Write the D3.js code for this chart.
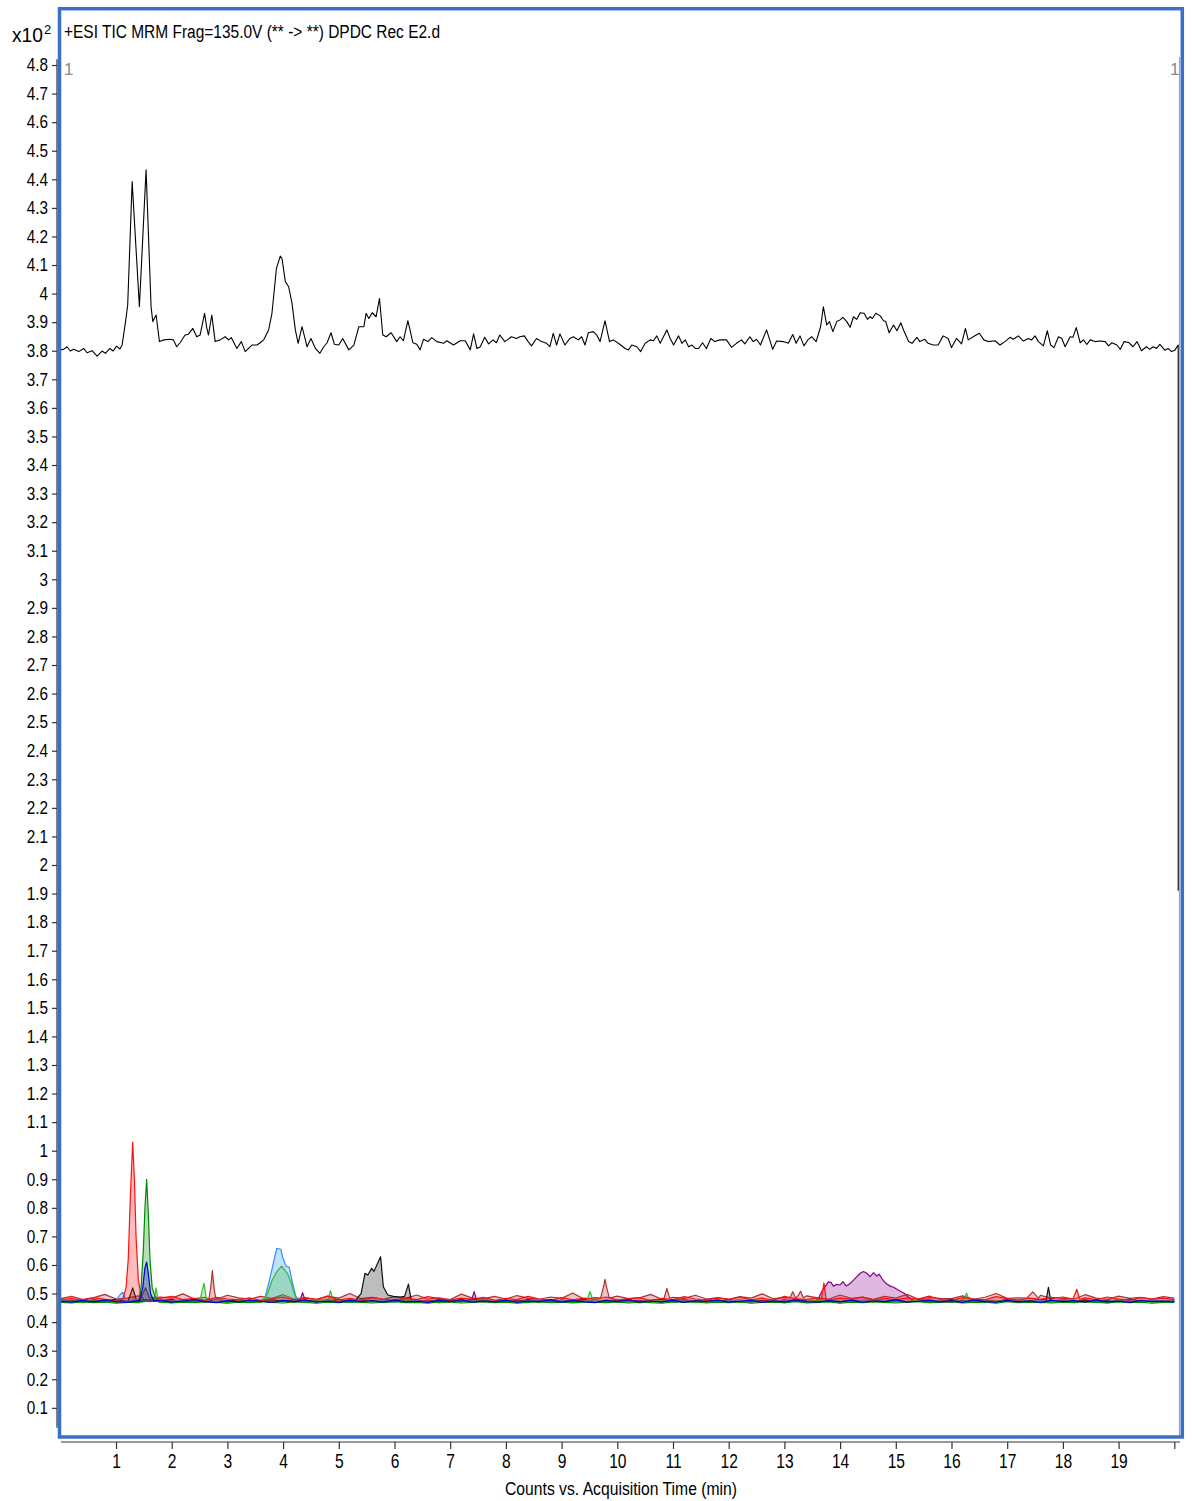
<!DOCTYPE html>
<html>
<head>
<meta charset="utf-8">
<script src="https://cdn.jsdelivr.net/npm/d3@7/dist/d3.min.js"></script>
<style>
  html, body { margin: 0; padding: 0; background: #fff; }
  svg { display: block; }
  .lbl { font-family: "Liberation Sans Narrow", "Arial Narrow", "Liberation Sans", Arial, sans-serif; fill: #000; }
</style>
</head>
<body>
<svg id="chart" width="1192" height="1501"></svg>
<script>
// ---- chart text ----
const titleText = "+ESI TIC MRM Frag=135.0V (** -> **) DPDC Rec E2.d";
const xAxisTitle = "Counts vs. Acquisition Time (min)";
const yMultiplier = "x10";
const yExponent = "2";
const segmentMark = "1";

// ---- axis ticks ----
const xTickValues = [1,2,3,4,5,6,7,8,9,10,11,12,13,14,15,16,17,18,19,20];
const xTickLabels = ["1","2","3","4","5","6","7","8","9","10","11","12","13","14","15","16","17","18","19",""];
const yTickValues = [0.1,0.2,0.3,0.4,0.5,0.6,0.7,0.8,0.9,1,1.1,1.2,1.3,1.4,1.5,1.6,1.7,1.8,1.9,2,
  2.1,2.2,2.3,2.4,2.5,2.6,2.7,2.8,2.9,3,3.1,3.2,3.3,3.4,3.5,3.6,3.7,3.8,3.9,4,4.1,4.2,4.3,4.4,4.5,4.6,4.7,4.8];

// ---- total ion chromatogram: [time (min), counts x10^2] ----
const ticPoints = [
  [0,3.803],[0.06,3.805],[0.12,3.814],[0.18,3.799],[0.24,3.805],[0.33,3.797],[0.42,3.808],[0.48,3.793],[0.57,3.800],[0.66,3.781],
  [0.75,3.799],[0.81,3.791],[0.89,3.808],[0.95,3.799],[1.01,3.816],[1.07,3.806],[1.11,3.82],[1.17,3.90],[1.21,3.96],[1.29,4.392],
  [1.42,3.954],[1.54,4.433],[1.63,3.954],[1.66,3.902],[1.72,3.925],[1.78,3.832],[1.86,3.838],[1.97,3.840],[2.03,3.838],[2.09,3.814],
  [2.15,3.828],[2.24,3.855],[2.30,3.858],[2.38,3.878],[2.45,3.849],[2.51,3.855],[2.59,3.931],[2.63,3.88],[2.66,3.855],[2.72,3.925],
  [2.78,3.832],[2.87,3.838],[2.96,3.849],[3.02,3.838],[3.07,3.846],[3.17,3.808],[3.25,3.832],[3.32,3.797],[3.44,3.820],[3.53,3.820],
  [3.59,3.828],[3.65,3.838],[3.74,3.873],[3.80,3.931],[3.88,4.088],[3.95,4.131],[3.98,4.123],[4.04,4.042],[4.10,4.024],[4.16,3.966],
  [4.22,3.873],[4.27,3.826],[4.34,3.884],[4.43,3.814],[4.50,3.843],[4.58,3.808],[4.66,3.791],[4.73,3.814],[4.79,3.828],[4.86,3.863],
  [4.92,3.823],[5.00,3.820],[5.07,3.843],[5.18,3.803],[5.27,3.820],[5.36,3.884],[5.45,3.884],[5.49,3.931],[5.54,3.913],[5.60,3.933],
  [5.67,3.919],[5.73,3.983],[5.79,3.855],[5.85,3.849],[5.94,3.863],[6.04,3.832],[6.10,3.849],[6.16,3.835],[6.24,3.905],[6.33,3.828],
  [6.40,3.823],[6.46,3.803],[6.52,3.840],[6.60,3.832],[6.67,3.846],[6.76,3.832],[6.88,3.826],[6.94,3.835],[7.06,3.820],[7.18,3.835],
  [7.27,3.835],[7.36,3.803],[7.42,3.859],[7.48,3.808],[7.54,3.814],[7.62,3.847],[7.69,3.824],[7.77,3.838],[7.83,3.828],[7.89,3.855],
  [7.98,3.832],[8.10,3.849],[8.19,3.843],[8.25,3.849],[8.33,3.852],[8.40,3.832],[8.46,3.817],[8.55,3.843],[8.64,3.832],[8.73,3.826],
  [8.79,3.814],[8.85,3.861],[8.91,3.820],[8.97,3.859],[9.06,3.820],[9.15,3.843],[9.21,3.849],[9.30,3.838],[9.36,3.849],[9.42,3.820],
  [9.48,3.863],[9.57,3.867],[9.63,3.855],[9.69,3.832],[9.78,3.905],[9.86,3.832],[9.93,3.838],[10.05,3.822],[10.14,3.808],[10.20,3.803],
  [10.26,3.820],[10.35,3.814],[10.42,3.797],[10.50,3.826],[10.59,3.838],[10.65,3.835],[10.71,3.852],[10.77,3.826],[10.89,3.873],[10.95,3.843],
  [11.01,3.820],[11.10,3.852],[11.16,3.826],[11.22,3.838],[11.28,3.814],[11.34,3.820],[11.40,3.808],[11.46,3.808],[11.53,3.828],[11.60,3.808],
  [11.68,3.843],[11.75,3.832],[11.84,3.838],[11.96,3.838],[12.05,3.812],[12.14,3.826],[12.23,3.838],[12.29,3.824],[12.38,3.849],[12.44,3.832],
  [12.50,3.840],[12.57,3.820],[12.68,3.873],[12.79,3.805],[12.86,3.834],[12.98,3.832],[13.07,3.826],[13.15,3.857],[13.21,3.826],[13.28,3.852],
  [13.35,3.817],[13.43,3.840],[13.49,3.849],[13.57,3.832],[13.65,3.884],[13.70,3.954],[13.76,3.890],[13.81,3.902],[13.87,3.867],[13.94,3.902],
  [14.00,3.908],[14.05,3.917],[14.12,3.902],[14.18,3.882],[14.24,3.919],[14.30,3.910],[14.36,3.933],[14.43,3.931],[14.49,3.910],[14.54,3.919],
  [14.58,3.913],[14.64,3.931],[14.72,3.922],[14.78,3.905],[14.82,3.902],[14.88,3.863],[14.96,3.890],[15.02,3.870],[15.09,3.898],[15.15,3.867],
  [15.23,3.832],[15.29,3.826],[15.38,3.847],[15.43,3.832],[15.52,3.840],[15.58,3.826],[15.67,3.820],[15.76,3.820],[15.85,3.852],[15.94,3.843],
  [16.00,3.811],[16.09,3.843],[16.18,3.824],[16.25,3.878],[16.30,3.838],[16.39,3.849],[16.50,3.861],[16.58,3.838],[16.66,3.832],[16.78,3.835],
  [16.87,3.820],[16.96,3.832],[17.05,3.847],[17.11,3.840],[17.20,3.852],[17.29,3.834],[17.38,3.843],[17.44,3.838],[17.50,3.852],[17.56,3.832],
  [17.65,3.817],[17.72,3.870],[17.78,3.820],[17.84,3.811],[17.92,3.849],[17.98,3.843],[18.04,3.814],[18.13,3.849],[18.18,3.847],[18.24,3.881],
  [18.31,3.828],[18.37,3.838],[18.43,3.822],[18.49,3.838],[18.58,3.832],[18.67,3.834],[18.76,3.832],[18.82,3.817],[18.88,3.828],[18.97,3.820],
  [19.03,3.805],[19.10,3.832],[19.18,3.829],[19.26,3.814],[19.33,3.832],[19.41,3.800],[19.50,3.814],[19.56,3.805],[19.62,3.814],[19.68,3.808],
  [19.74,3.822],[19.83,3.802],[19.89,3.808],[19.95,3.797],[20.01,3.802],[20.07,3.820],[20.07,1.91]
];

// ---- MRM transitions: baseline samples every 0.2 min (t = 0 .. 20) ----
const mrmStep = 0.2;
const mrmFloor = 0.47;

const baseGreen = [
  .469,.467,.471,.468,.470,.466,.469,.472,.468,.470,
  .467,.470,.468,.471,.469,.466,.470,.468,.472,.469,
  .467,.471,.469,.466,.470,.468,.471,.469,.467,.470,
  .472,.468,.469,.466,.471,.470,.467,.469,.471,.468,
  .470,.466,.469,.472,.468,.470,.467,.471,.469,.468,
  .471,.467,.470,.468,.466,.471,.469,.472,.467,.470,
  .468,.471,.466,.469,.470,.468,.472,.467,.469,.471,
  .466,.470,.468,.471,.469,.467,.470,.472,.468,.469,
  .471,.467,.469,.470,.466,.472,.468,.470,.469,.467,
  .470,.468,.472,.469,.467,.471,.468,.470,.466,.469,
  .470];
const baseBlue = [
  .473,.470,.476,.471,.478,.472,.469,.475,.471,.477,
  .470,.474,.479,.472,.468,.475,.471,.477,.473,.469,
  .476,.472,.478,.470,.474,.469,.477,.472,.475,.470,
  .478,.471,.473,.469,.476,.472,.479,.470,.474,.471,
  .477,.469,.474,.472,.478,.470,.475,.471,.468,.476,
  .472,.479,.470,.474,.471,.477,.469,.475,.472,.478,
  .470,.473,.476,.469,.474,.471,.478,.472,.470,.475,
  .471,.477,.469,.474,.472,.479,.470,.473,.476,.471,
  .475,.469,.478,.472,.470,.476,.471,.474,.468,.477,
  .472,.475,.470,.478,.471,.473,.469,.476,.472,.474,
  .471];
const basePurple = [
  .475,.471,.477,.473,.470,.476,.474,.479,.472,.475,
  .471,.478,.473,.476,.470,.474,.477,.472,.475,.479,
  .473,.470,.476,.472,.478,.474,.471,.477,.473,.470,
  .476,.479,.472,.475,.471,.477,.473,.470,.478,.474,
  .472,.476,.470,.475,.479,.473,.471,.477,.474,.472,
  .478,.471,.475,.473,.470,.476,.479,.472,.474,.471,
  .477,.473,.470,.476,.472,.478,.474,.471,.475,.479,
  .472,.475,.471,.477,.473,.470,.476,.474,.478,.472,
  .470,.477,.473,.475,.471,.479,.472,.476,.470,.474,
  .478,.472,.475,.471,.477,.473,.470,.476,.474,.472,
  .475];
const baseRed = [
  .478,.483,.476,.486,.480,.475,.488,.481,.477,.484,
  .490,.479,.483,.476,.487,.481,.478,.485,.475,.482,
  .488,.477,.484,.480,.491,.478,.483,.476,.486,.480,
  .475,.485,.479,.489,.482,.477,.484,.480,.487,.476,
  .483,.479,.490,.481,.476,.486,.478,.484,.480,.488,
  .477,.482,.486,.475,.483,.479,.489,.481,.476,.485,
  .480,.487,.478,.484,.476,.490,.482,.479,.486,.477,
  .484,.480,.488,.476,.483,.478,.485,.481,.491,.479,
  .476,.486,.481,.478,.489,.482,.477,.484,.480,.487,
  .483,.476,.485,.479,.488,.481,.477,.486,.480,.484,
  .479];
const baseBrown = [
  .482,.490,.480,.486,.497,.481,.484,.492,.479,.488,
  .484,.499,.482,.487,.480,.494,.485,.481,.490,.483,
  .496,.481,.486,.479,.491,.484,.500,.482,.487,.480,
  .489,.483,.495,.481,.485,.479,.498,.484,.482,.490,
  .481,.493,.484,.480,.488,.483,.502,.481,.486,.479,
  .491,.482,.485,.497,.480,.487,.483,.494,.481,.486,
  .480,.489,.484,.499,.482,.486,.479,.492,.485,.481,
  .495,.483,.488,.480,.490,.484,.497,.481,.486,.483,
  .482,.492,.480,.487,.500,.483,.485,.479,.494,.482,
  .488,.481,.496,.484,.480,.491,.483,.487,.481,.489,
  .484];
const baseBlack = [
  .472,.476,.471,.478,.474,.480,.473,.470,.477,.475,
  .479,.472,.476,.471,.481,.474,.477,.470,.475,.478,
  .473,.479,.471,.476,.474,.480,.472,.477,.470,.475,
  .478,.473,.476,.471,.479,.474,.472,.481,.475,.470,
  .476,.472,.479,.474,.470,.477,.473,.480,.471,.475,
  .474,.478,.471,.476,.480,.472,.475,.470,.478,.473,
  .479,.471,.475,.473,.477,.470,.480,.474,.472,.476,
  .471,.477,.474,.479,.472,.476,.470,.478,.475,.473,
  .480,.474,.471,.476,.473,.478,.472,.475,.479,.471,
  .475,.472,.478,.470,.476,.474,.481,.473,.477,.472,
  .474];
const baseSky = [
  .476,.472,.479,.474,.471,.477,.473,.480,.475,.471,
  .474,.478,.472,.476,.481,.473,.470,.477,.474,.479,
  .471,.476,.473,.480,.475,.471,.478,.474,.472,.477,
  .473,.479,.475,.470,.476,.472,.478,.474,.481,.473,
  .477,.471,.475,.479,.472,.476,.470,.474,.478,.473,
  .480,.474,.471,.477,.473,.479,.475,.472,.476,.471,
  .475,.478,.473,.470,.477,.474,.480,.472,.476,.479,
  .473,.471,.476,.479,.474,.477,.472,.475,.470,.478,
  .476,.473,.480,.475,.471,.474,.478,.473,.477,.472,
  .479,.474,.471,.476,.473,.480,.475,.472,.478,.474,
  .476];
const baseLime = [
  .470,.474,.468,.473,.476,.469,.472,.467,.475,.471,
  .468,.473,.477,.470,.472,.468,.476,.471,.469,.474,
  .472,.467,.473,.478,.470,.474,.469,.472,.476,.468,
  .471,.475,.469,.473,.467,.472,.477,.470,.474,.469,
  .476,.470,.473,.468,.475,.471,.469,.474,.472,.478,
  .469,.473,.467,.472,.476,.470,.474,.468,.471,.475,
  .472,.469,.476,.471,.473,.467,.475,.470,.477,.472,
  .468,.474,.470,.475,.469,.473,.471,.476,.468,.472,
  .475,.470,.472,.468,.474,.477,.469,.473,.470,.471,
  .473,.476,.469,.472,.467,.474,.470,.475,.471,.469,
  .472];

// ---- MRM peaks: groups of [time, counts x10^2] ----
const peaksRed = [
  [[1.12,.481],[1.18,.52],[1.22,.62],[1.26,.85],[1.30,1.03],[1.33,.90],[1.36,.70],[1.40,.55],[1.45,.49],[1.50,.480]],
  [[13.66,.479],[13.71,.537],[13.75,.479]],
  [[18.18,.48],[18.25,.515],[18.30,.48]]
];
const peaksGreen = [
  [[1.40,.470],[1.45,.52],[1.49,.65],[1.52,.80],[1.55,.90],[1.58,.78],[1.61,.62],[1.65,.52],[1.70,.49],[1.78,.470]]
];
const peaksBlue = [
  [[1.42,.474],[1.48,.52],[1.52,.59],[1.55,.61],[1.58,.57],[1.62,.50],[1.68,.474]]
];
const peaksSky = [
  [[1.00,.476],[1.07,.495],[1.12,.505],[1.18,.476]],
  [[3.60,.476],[3.675,.483],[3.77,.559],[3.885,.658],[3.96,.655],[3.99,.629],[4.05,.596],[4.11,.592],[4.17,.536],[4.23,.49],[4.30,.476]]
];
const peaksLime = [
  [[1.68,.472],[1.72,.52],[1.76,.472]],
  [[2.50,.471],[2.58,.536],[2.63,.472]],
  [[3.62,.470],[3.72,.50],[3.80,.545],[3.88,.575],[3.97,.596],[4.02,.585],[4.08,.57],[4.14,.54],[4.20,.50],[4.26,.471]],
  [[4.80,.472],[4.85,.51],[4.90,.472]],
  [[9.45,.472],[9.51,.507],[9.57,.472]],
  [[16.20,.472],[16.27,.501],[16.33,.472]]
];
const peaksBrown = [
  [[1.45,.485],[1.53,.52],[1.60,.485]],
  [[2.67,.482],[2.70,.52],[2.73,.58],[2.76,.52],[2.79,.483]],
  [[9.70,.484],[9.76,.53],[9.78,.55],[9.81,.52],[9.86,.484]],
  [[10.84,.484],[10.89,.518],[10.94,.484]],
  [[13.10,.485],[13.15,.506],[13.20,.485],[13.24,.49],[13.29,.508],[13.34,.485]],
  [[17.35,.484],[17.46,.506],[17.56,.484]]
];
const peaksBlack = [
  [[1.22,.476],[1.30,.52],[1.37,.476]],
  [[5.30,.477],[5.40,.50],[5.47,.571],[5.52,.565],[5.59,.588],[5.63,.578],[5.66,.59],[5.75,.629],[5.80,.524],[5.88,.495],[5.98,.49],[6.10,.488],[6.18,.49],[6.25,.533],[6.30,.477]],
  [[17.70,.477],[17.74,.522],[17.78,.477]]
];
const peaksPurple = [
  [[4.30,.474],[4.35,.503],[4.40,.474]],
  [[7.38,.474],[7.43,.507],[7.48,.474]],
  [[13.55,.475],[13.61,.483],[13.67,.507],[13.73,.524],[13.79,.541],[13.84,.538],[13.88,.526],[13.94,.532],[14.00,.530],[14.05,.542],
   [14.11,.526],[14.18,.535],[14.27,.553],[14.36,.571],[14.42,.577],[14.48,.571],[14.54,.559],[14.60,.573],[14.66,.561],[14.70,.568],
   [14.76,.55],[14.82,.536],[14.90,.526],[14.96,.522],[15.02,.515],[15.09,.507],[15.15,.501],[15.22,.489],[15.28,.480],[15.34,.475]]
];

// Transition traces in drawing order (back to front)
const transitions = [
  { name: "purple", color: "#880088", base: basePurple, peaks: peaksPurple },
  { name: "brown",  color: "#b23030", base: baseBrown,  peaks: peaksBrown },
  { name: "black",  color: "#111111", base: baseBlack,  peaks: peaksBlack },
  { name: "sky",    color: "#2f8fff", base: baseSky,    peaks: peaksSky },
  { name: "lime",   color: "#2fbf2f", base: baseLime,   peaks: peaksLime },
  { name: "red",    color: "#ff1010", base: baseRed,    peaks: peaksRed },
  { name: "green",  color: "#008a00", base: baseGreen,  peaks: peaksGreen },
  { name: "blue",   color: "#0000d0", base: baseBlue,   peaks: peaksBlue }
];

// Combine baseline samples with the peak groups of one transition
function buildTrace(base, peaks) {
  let pts = base.map((v, i) => [+(i * mrmStep).toFixed(2), v]);
  peaks.forEach(g => {
    const lo = g[0][0], hi = g[g.length - 1][0];
    pts = pts.filter(p => p[0] < lo || p[0] > hi).concat(g);
  });
  return pts.sort((a, b) => a[0] - b[0]);
}

// Narrow-face emulation: squeeze a text horizontally around its own anchor
function squeeze(sel, sx) {
  sel.each(function () {
    const t = d3.select(this);
    const x0 = +(t.attr("x") || 0);
    t.attr("x", x0 / sx).attr("transform", `scale(${sx},1)`);
  });
}

// ---- layout ----
const svg = d3.select("#chart");
const x = d3.scaleLinear().domain([0, 20]).range([60.3, 1174.3]);
const y = d3.scaleLinear().domain([0, 5]).range([1436.4, 7.9]);

svg.append("rect").attr("width", 1192).attr("height", 1501).attr("fill", "#fff");

const plot = svg.append("g");

// MRM traces with translucent fill
const area = d3.area().x(d => x(d[0])).y0(y(mrmFloor)).y1(d => y(d[1]));
const line = d3.line().x(d => x(d[0])).y(d => y(d[1]));
transitions.forEach(tr => {
  const pts = buildTrace(tr.base, tr.peaks);
  plot.append("path").attr("d", area(pts))
    .attr("fill", tr.color).attr("fill-opacity", 0.28);
  plot.append("path").attr("d", line(pts))
    .attr("fill", "none").attr("stroke", tr.color).attr("stroke-width", 1.2)
    .attr("stroke-linejoin", "round");
});

// segment marker line at right edge
plot.append("line")
  .attr("x1", 1179.5).attr("x2", 1179.5).attr("y1", 57).attr("y2", 1436)
  .attr("stroke", "#a8a8a8").attr("stroke-width", 1.3);

// TIC
plot.append("path").attr("d", line(ticPoints))
  .attr("fill", "none").attr("stroke", "#000").attr("stroke-width", 1.1)
  .attr("stroke-linejoin", "round");

// segment marks
svg.append("text").attr("class", "lbl").attr("x", 64).attr("y", 75)
  .attr("font-size", 17).style("fill", "#8a8a8a").text(segmentMark);
svg.append("text").attr("class", "lbl").attr("x", 1170).attr("y", 75)
  .attr("font-size", 17).style("fill", "#8a8a8a").text(segmentMark);

// frame
svg.append("rect")
  .attr("x", 59.5).attr("y", 8.7).attr("width", 1122.8).attr("height", 1428.3)
  .attr("fill", "none").attr("stroke", "#3b70c9").attr("stroke-width", 3.5);

// title
svg.append("text").attr("class", "lbl").attr("x", 64).attr("y", 38)
  .attr("font-size", 18).attr("textLength", 376).attr("lengthAdjust", "spacingAndGlyphs")
  .text(titleText);

// y axis
const yAxis = d3.axisLeft(y).tickValues(yTickValues).tickSize(5).tickPadding(4)
  .tickFormat(d => String(d));
const gy = svg.append("g").attr("transform", "translate(57,0)").call(yAxis);
gy.select(".domain").remove();
gy.append("line").attr("x1", 0).attr("x2", 0).attr("y1", y(4.82)).attr("y2", y(0.03))
  .attr("stroke", "#333").attr("stroke-width", 1.2);
gy.selectAll(".tick line").attr("stroke", "#333").attr("stroke-width", 1.2);
gy.selectAll(".tick text").attr("class", "lbl").attr("font-size", 18).style("fill", "#000")
  .call(squeeze, 0.85);

// y multiplier
svg.append("text").attr("class", "lbl").attr("x", 12).attr("y", 42)
  .attr("font-size", 20).attr("textLength", 31).attr("lengthAdjust", "spacingAndGlyphs")
  .text(yMultiplier);
svg.append("text").attr("class", "lbl").attr("x", 44).attr("y", 34)
  .attr("font-size", 13).text(yExponent);

// x axis
const xAxis = d3.axisBottom(x).tickValues(xTickValues).tickSize(7).tickPadding(5)
  .tickFormat((d, i) => xTickLabels[i]);
const gx = svg.append("g").attr("transform", "translate(0,1442)").call(xAxis);
gx.select(".domain").remove();
gx.append("line").attr("x1", 61).attr("x2", 1180).attr("y1", 0).attr("y2", 0)
  .attr("stroke", "#333").attr("stroke-width", 1.2);
gx.selectAll(".tick line").attr("stroke", "#333").attr("stroke-width", 1.2);
gx.selectAll(".tick text").attr("class", "lbl").attr("font-size", 20).style("fill", "#000")
  .call(squeeze, 0.78);

svg.append("text").attr("class", "lbl").attr("x", 621).attr("y", 1495)
  .attr("text-anchor", "middle").attr("font-size", 19)
  .attr("textLength", 232).attr("lengthAdjust", "spacingAndGlyphs")
  .text(xAxisTitle);
</script>
</body>
</html>
